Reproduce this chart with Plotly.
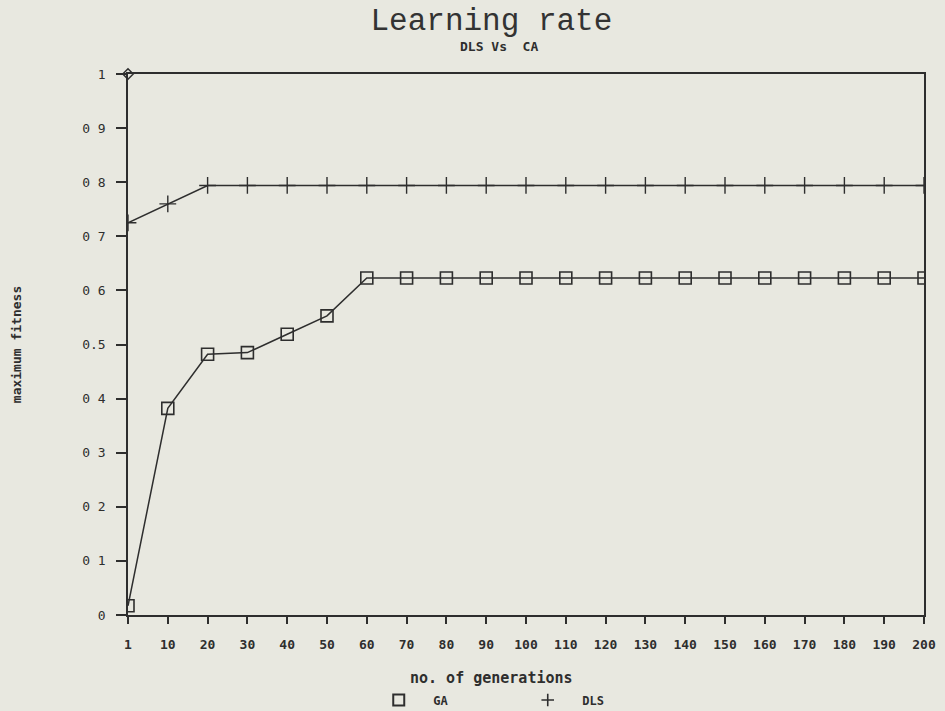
import plotly.graph_objects as go

# generation checkpoints (categorical x axis)
generations = ["1", "10", "20", "30", "40", "50", "60", "70", "80", "90", "100",
               "110", "120", "130", "140", "150", "160", "170", "180", "190", "200"]

# maximum fitness reached by each method
ga_fitness = [0.017, 0.382, 0.482, 0.485, 0.519, 0.553, 0.623, 0.623, 0.623, 0.623, 0.623,
              0.623, 0.623, 0.623, 0.623, 0.623, 0.623, 0.623, 0.623, 0.623, 0.623]
dls_fitness = [0.725, 0.760, 0.794, 0.794, 0.794, 0.794, 0.794, 0.794, 0.794, 0.794, 0.794,
               0.794, 0.794, 0.794, 0.794, 0.794, 0.794, 0.794, 0.794, 0.794, 0.794]

# reference point at the top of the scale
ref_x = ["1"]
ref_y = [1.0]

y_ticks = [0, 0.1, 0.2, 0.3, 0.4, 0.5, 0.6, 0.7, 0.8, 0.9, 1]
y_ticktext = ["0", "0 1", "0 2", "0 3", "0 4", "0.5", "0 6", "0 7", "0 8", "0 9", "1"]

INK = "#2e2e2e"
BG = "#e8e8e0"
MONO = "Liberation Mono, Courier New, monospace"
SANSMONO = "DejaVu Sans Mono, monospace"

fig = go.Figure()

fig.add_trace(go.Scatter(
    x=generations, y=dls_fitness, mode="lines+markers", showlegend=False,
    line=dict(color=INK, width=1.5),
    marker=dict(symbol="cross-thin", size=12, line=dict(color=INK, width=1.4)),
))
fig.add_trace(go.Scatter(
    x=generations, y=ga_fitness, mode="lines+markers", showlegend=False,
    line=dict(color=INK, width=1.5),
    marker=dict(symbol="square-open", size=12, color=INK, line=dict(width=1.6)),
))
fig.add_trace(go.Scatter(
    x=ref_x, y=ref_y, mode="markers", showlegend=False, cliponaxis=False,
    marker=dict(symbol="diamond-open", size=8, color=INK, line=dict(width=1.5)),
))

# legend entries (marker only)
fig.add_trace(go.Scatter(
    x=[None], y=[None], mode="markers", name="\u00a0\u00a0GA",
    marker=dict(symbol="square-open", size=11, color=INK, line=dict(width=2)),
))
fig.add_trace(go.Scatter(
    x=[None], y=[None], mode="markers", name="\u00a0\u00a0DLS",
    marker=dict(symbol="cross-thin", size=9, line=dict(color=INK, width=1.6)),
))

fig.update_layout(
    width=945, height=711,
    margin=dict(l=128, r=21, t=74, b=96, autoexpand=False),
    paper_bgcolor=BG, plot_bgcolor=BG,
    font=dict(family=SANSMONO, color=INK, size=12),
    title=dict(text="Learning rate", x=0.52, xanchor="center", y=0.973, yanchor="middle",
               font=dict(family=MONO, size=31, color="#333333")),
    showlegend=True,
    legend=dict(orientation="h", x=0.315, xanchor="left", y=-0.157, yanchor="middle",
                bgcolor="rgba(0,0,0,0)",
                font=dict(family=SANSMONO, size=12, weight="bold", color=INK),
                entrywidth=104, itemclick=False),
    annotations=[
        dict(text="DLS Vs  CA", x=0.466, y=1.050, xref="paper", yref="paper",
             showarrow=False, xanchor="center", yanchor="middle",
             font=dict(family=SANSMONO, size=13, weight="bold", color=INK)),
        dict(text="no. of generations", x=0.457, y=-0.117, xref="paper", yref="paper",
             showarrow=False, xanchor="center", yanchor="middle",
             font=dict(family=SANSMONO, size=15, weight="bold", color=INK)),
    ],
)

fig.update_xaxes(
    type="category", range=[0, 20],
    showline=True, linecolor=INK, linewidth=2, mirror=True,
    showgrid=False, zeroline=False,
    ticks="outside", ticklen=7, tickwidth=1.5, tickcolor=INK,
    ticklabelstandoff=9,
    tickfont=dict(family=SANSMONO, size=13, weight="bold", color=INK),
)
fig.update_yaxes(
    range=[0, 1], tickvals=y_ticks, ticktext=y_ticktext,
    showline=True, linecolor=INK, linewidth=1.5, mirror=True,
    showgrid=False, zeroline=False,
    ticks="outside", ticklen=10, tickwidth=1.5, tickcolor=INK,
    ticklabelstandoff=8,
    tickfont=dict(family=SANSMONO, size=13, color=INK),
    title=dict(text="maximum fitness", standoff=58,
               font=dict(family=SANSMONO, size=13, weight="bold", color=INK)),
)

fig.write_html("out.html")
